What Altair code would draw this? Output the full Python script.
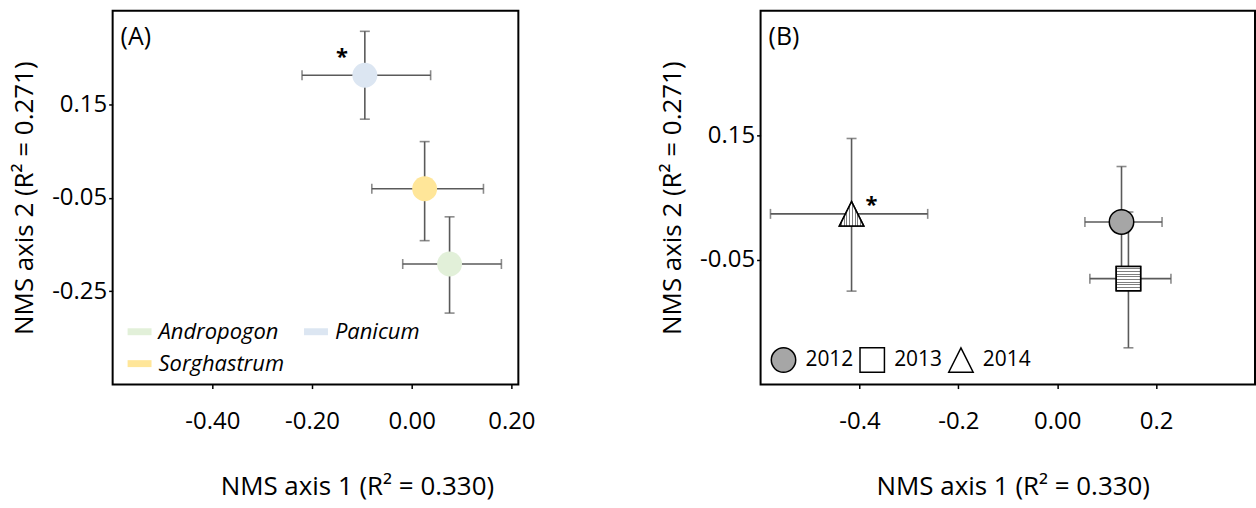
import altair as alt
import pandas as pd

FONT = "Open Sans"

# (A) species centroids on the NMS ordination, with error ranges
species = ["Andropogon", "Panicum", "Sorghastrum"]
sp_x = [0.076, -0.094, 0.026]
sp_y = [-0.192, 0.212, -0.031]
sp_x_lo = [-0.018, -0.220, -0.080]
sp_x_hi = [0.180, 0.038, 0.144]
sp_y_lo = [-0.297, 0.118, -0.142]
sp_y_hi = [-0.091, 0.306, 0.070]
sp_flag = ["", "*", ""]
sp_colors = {"Andropogon": "#e2f0d9", "Panicum": "#dce6f2", "Sorghastrum": "#ffe699"}
# legend fills column by column: Andropogon / Sorghastrum, then Panicum
legend_order = ["Andropogon", "Sorghastrum", "Panicum"]

# (B) year centroids
years = ["2012", "2013", "2014"]
yr_x = [0.130, 0.144, -0.416]
yr_y = [0.011, -0.080, 0.024]
yr_x_lo = [0.056, 0.066, -0.580]
yr_x_hi = [0.212, 0.230, -0.262]
yr_y_lo = [-0.075, -0.191, -0.100]
yr_y_hi = [0.100, 0.027, 0.145]
yr_flag = ["", "", "*"]
yr_shapes = ["circle", "square", "M0,-1L1,1L-1,1Z"]
yr_fills = ["#a6a6a6", "#ffffff", "#ffffff"]

x_ticks = [-0.4, -0.2, 0.0, 0.2]
ya_ticks = [0.15, -0.05, -0.25]
yb_ticks = [0.15, -0.05]

X_TITLE = "NMS axis 1 (R\u00b2 = 0.330)"
Y_TITLE = "NMS axis 2 (R\u00b2 = 0.271)"

BAR = "#5a5a5a"


def stripes(n, horizontal):
    stops = []
    for i in range(n):
        a = i / n
        b = (i + 0.6) / n
        c = (i + 1) / n
        stops += [
            alt.GradientStop(color="#ffffff", offset=a),
            alt.GradientStop(color="#ffffff", offset=b),
            alt.GradientStop(color="#7f7f7f", offset=b),
            alt.GradientStop(color="#7f7f7f", offset=c),
        ]
    if horizontal:
        return alt.LinearGradient(gradient="linear", stops=stops, x1=0, x2=0, y1=0, y2=1)
    return alt.LinearGradient(gradient="linear", stops=stops, x1=0, x2=1, y1=0, y2=0)


def hyphen(expr):
    return "replace(" + expr + ", '\u2212', '-')"


def panel(df, xdom, ydom, w, h, xlabels, yticks, title_x, tag, marks):
    xscale = alt.Scale(domain=xdom, nice=False, zero=False)
    yscale = alt.Scale(domain=ydom, nice=False, zero=False)
    xaxis = alt.Axis(values=x_ticks, labelExpr=hyphen(xlabels), title=X_TITLE,
                     titleX=title_x, titleAlign="center", titlePadding=40, labelPadding=21)
    yaxis = alt.Axis(values=yticks, labelExpr=hyphen("format(datum.value, '.2f')"),
                     title=Y_TITLE, titlePadding=14, labelPadding=2)

    def X(f):
        return alt.X(f + ":Q", scale=xscale, axis=xaxis)

    def Y(f):
        return alt.Y(f + ":Q", scale=yscale, axis=yaxis)

    base = alt.Chart(df)
    hbar = base.mark_rule(color=BAR, strokeWidth=1.6).encode(x=X("xlo"), x2="xhi", y=Y("y"))
    vbar = base.mark_rule(color=BAR, strokeWidth=1.6).encode(x=X("x"), y=Y("ylo"), y2="yhi")
    caps = [
        base.mark_tick(orient="vertical", color=BAR, size=10, thickness=1.6).encode(x=X("xlo"), y=Y("y")),
        base.mark_tick(orient="vertical", color=BAR, size=10, thickness=1.6).encode(x=X("xhi"), y=Y("y")),
        base.mark_tick(orient="horizontal", color=BAR, size=10, thickness=1.6).encode(x=X("x"), y=Y("ylo")),
        base.mark_tick(orient="horizontal", color=BAR, size=10, thickness=1.6).encode(x=X("x"), y=Y("yhi")),
    ]
    tag_text = alt.Chart(pd.DataFrame({"t": [tag]})).mark_text(
        align="left", baseline="top", font=FONT, fontSize=25, color="black"
    ).encode(x=alt.value(8), y=alt.value(14), text="t:N")
    layers = [hbar, vbar] + caps + marks(base, X, Y) + [tag_text]
    return alt.layer(*layers).properties(width=w, height=h)


df_a = pd.DataFrame({"name": species, "x": sp_x, "y": sp_y, "xlo": sp_x_lo, "xhi": sp_x_hi,
                     "ylo": sp_y_lo, "yhi": sp_y_hi, "flag": sp_flag})
df_b = pd.DataFrame({"name": years, "x": yr_x, "y": yr_y, "xlo": yr_x_lo, "xhi": yr_x_hi,
                     "ylo": yr_y_lo, "yhi": yr_y_hi, "flag": yr_flag})

# legends of the concatenated chart are placed relative to the first panel's plot area
B_SHIFT = 645


def marks_a(base, X, Y):
    pts = base.mark_point(filled=True, size=625, opacity=1).encode(
        x=X("x"), y=Y("y"),
        color=alt.Color("name:N",
                        scale=alt.Scale(domain=legend_order,
                                        range=[sp_colors[s] for s in legend_order]),
                        legend=alt.Legend(title=None, orient="none", legendX=15, legendY=310,
                                          columns=2, symbolType="M-1,-0.29L1,-0.29L1,0.29L-1,0.29Z",
                                          symbolSize=576, symbolStrokeWidth=0, symbolOpacity=1,
                                          labelFont=FONT, labelFontSize=22, labelFontStyle="italic",
                                          labelColor="black", labelOffset=7, columnPadding=20,
                                          rowPadding=9, labelLimit=300)),
    )
    star = base.mark_text(font=FONT, fontSize=22, fontWeight="bold", color="black",
                          dx=-23, dy=-18).encode(x=X("x"), y=Y("y"), text="flag:N")
    return [pts, star]


def marks_b(base, X, Y):
    leg = alt.Legend(title=None, orient="none", legendX=15 + B_SHIFT, legendY=337,
                     direction="horizontal", symbolSize=600, symbolStrokeWidth=1.5,
                     symbolOpacity=1, labelFont=FONT, labelFontSize=21, labelColor="black",
                     labelOffset=9, columnPadding=2)
    pts = base.mark_point(size=600, strokeWidth=1.5, opacity=1, fillOpacity=1).encode(
        x=X("x"), y=Y("y"),
        shape=alt.Shape("name:N", scale=alt.Scale(domain=years, range=yr_shapes), legend=leg),
        fill=alt.Fill("name:N", scale=alt.Scale(domain=years, range=yr_fills), legend=leg),
        stroke=alt.Stroke("name:N", scale=alt.Scale(domain=years, range=["black"] * 3), legend=leg),
    )
    sq = base.transform_filter(alt.datum.name == "2013").mark_point(
        shape="square", size=600, stroke="black", strokeWidth=1.5, opacity=1, fillOpacity=1,
        fill=stripes(9, True)).encode(x=X("x"), y=Y("y"))
    tri = base.transform_filter(alt.datum.name == "2014").mark_point(
        shape="M0,-1L1,1L-1,1Z", size=600, stroke="black", strokeWidth=1.5, opacity=1,
        fillOpacity=1, fill=stripes(9, False)).encode(x=X("x"), y=Y("y"))
    star = base.mark_text(font=FONT, fontSize=22, fontWeight="bold", color="black",
                          dx=20, dy=-9).encode(x=X("x"), y=Y("y"), text="flag:N")
    return [pts, sq, tri, star]


lab_a = "format(datum.value, '.2f')"
lab_b = "datum.value == 0 ? '0.00' : format(datum.value, '.1f')"

pa = panel(df_a, [-0.6, 0.214], [-0.45, 0.35], 407, 375, lab_a, ya_ticks, 245, "(A)", marks_a)
pb = panel(df_b, [-0.6, 0.4], [-0.25, 0.35], 496, 375, lab_b, yb_ticks, 253, "(B)", marks_b)

chart = alt.hconcat(pa, pb, spacing=122).properties(
    padding={"left": 10, "top": 9, "right": 0, "bottom": 0},
    background="white",
).configure_view(
    stroke="black", strokeWidth=2
).configure_axis(
    grid=False, domain=False, tickColor="black", tickSize=4, tickWidth=1.5,
    labelFont=FONT, labelFontSize=24, labelColor="black",
    titleFont=FONT, titleFontSize=26, titleFontWeight="normal", titleColor="black"
)

chart.save("out.html", embed_options={"renderer": "svg", "actions": False})
